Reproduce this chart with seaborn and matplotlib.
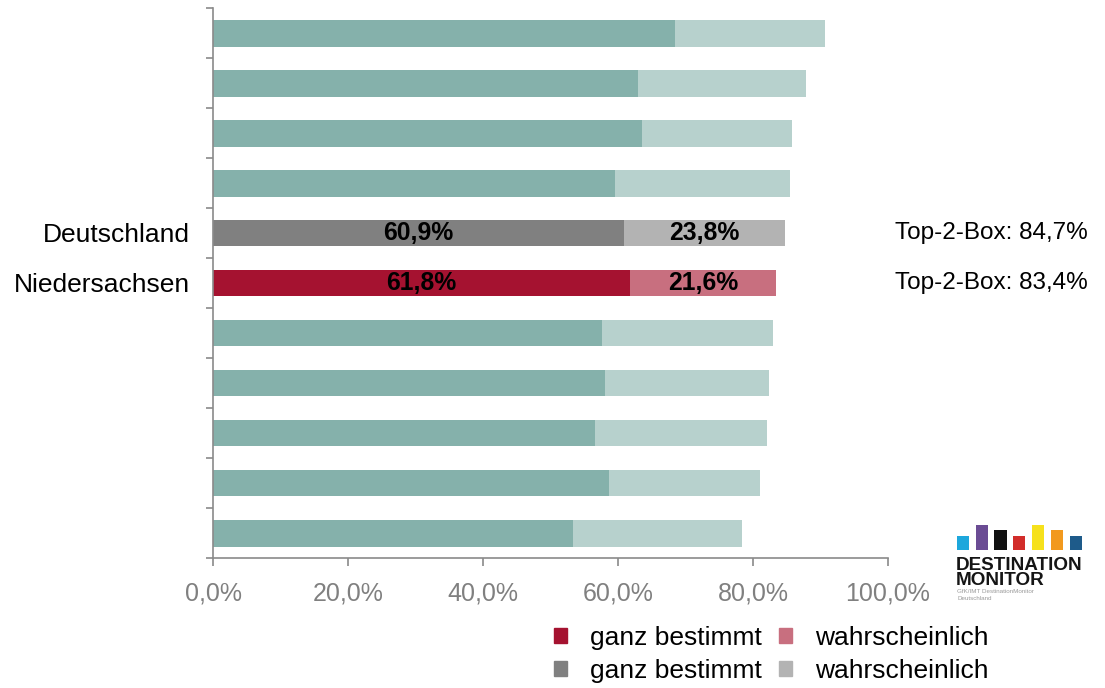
import matplotlib
matplotlib.use("Agg")
import matplotlib.pyplot as plt
from matplotlib.patches import Patch
import numpy as np
import pandas as pd
import seaborn as sns

# --- data -----------------------------------------------------------------
row_ids = ["1", "2", "3", "4", "5", "6", "7", "8", "9", "10", "11"]
regions = ["", "", "", "", "Deutschland", "Niedersachsen", "", "", "", "", ""]
ganz_bestimmt = [68.5, 62.9, 63.5, 59.6, 60.9, 61.8, 57.7, 58.0, 56.6, 58.7, 53.4]
wahrscheinlich = [22.2, 24.9, 22.3, 25.9, 23.8, 21.6, 25.2, 24.4, 25.4, 22.4, 24.9]
x_ticks = [0, 20, 40, 60, 80, 100]
legend_labels = ["ganz bestimmt", "ganz bestimmt", "wahrscheinlich", "wahrscheinlich"]

logo_heights = [14, 25, 20, 14, 25, 20, 14]
logo_colors = ["#1DA7DC", "#6B4C94", "#111111", "#D22D2A", "#F6E11C", "#F2991E", "#1E5B8A"]

# --- colours --------------------------------------------------------------
TEAL_DARK, TEAL_LIGHT = "#85B1AB", "#B7D1CD"
RED_DARK, RED_LIGHT = "#A51230", "#C86F7F"
GREY_DARK, GREY_LIGHT = "#808080", "#B3B3B3"

dark_cols, light_cols = [], []
for name in regions:
    if name == "Deutschland":
        dark_cols.append(GREY_DARK); light_cols.append(GREY_LIGHT)
    elif name == "Niedersachsen":
        dark_cols.append(RED_DARK); light_cols.append(RED_LIGHT)
    else:
        dark_cols.append(TEAL_DARK); light_cols.append(TEAL_LIGHT)

df = pd.DataFrame({
    "row": row_ids,
    "region": regions,
    "ganz": ganz_bestimmt,
    "wahr": wahrscheinlich,
})
df["total"] = df["ganz"] + df["wahr"]

sns.set_style("white")
plt.rcParams["font.family"] = ["Liberation Sans", "DejaVu Sans"]
plt.rcParams["text.color"] = "black"

fig = plt.figure(figsize=(11.05, 6.88), dpi=100)
ax = fig.add_axes([213 / 1105, 1 - 558 / 688, 675 / 1105, 550 / 688])

# stacked bars: full top-2 total first, "ganz bestimmt" share on top
sns.barplot(data=df, y="row", x="total", hue="row", order=row_ids, hue_order=row_ids,
            palette=dict(zip(row_ids, light_cols)), orient="h", width=0.54, saturation=1,
            linewidth=0, errorbar=None, legend=False, ax=ax)
sns.barplot(data=df, y="row", x="ganz", hue="row", order=row_ids, hue_order=row_ids,
            palette=dict(zip(row_ids, dark_cols)), orient="h", width=0.54, saturation=1,
            linewidth=0, errorbar=None, legend=False, ax=ax)

def pct(v):
    return f"{v:.1f}%".replace(".", ",")

for i, r in df.iterrows():
    if r["region"]:
        ax.text(r["ganz"] / 2, i, pct(r["ganz"]), ha="center", va="center",
                fontsize=17.8, fontweight="bold", color="black")
        ax.text(r["ganz"] + r["wahr"] / 2, i, pct(r["wahr"]), ha="center", va="center",
                fontsize=17.8, fontweight="bold", color="black")
        ax.text(101, i, f"Top-2-Box: {pct(r['total'])}", ha="left", va="center",
                fontsize=17.5, color="black", clip_on=False)

# axes styling
AX_GREY = "#8A8A8A"
ax.set_xlim(0, 100)
ax.set_ylim(10.5, -0.5)
ax.set_xlabel("")
ax.set_ylabel("")
ax.set_xticks(x_ticks)
ax.set_xticklabels([pct(v) for v in x_ticks])
ax.set_yticks(range(len(row_ids)))
ax.set_yticklabels(regions)
ax.set_yticks(np.arange(-0.5, len(row_ids), 1.0), minor=True)
ax.tick_params(axis="y", which="major", length=0, pad=16.5, labelsize=19, labelcolor="black")
ax.tick_params(axis="y", which="minor", length=5, width=1.2, color=AX_GREY, direction="out", left=True)
ax.tick_params(axis="x", which="major", length=6, width=1.2, color=AX_GREY, direction="out",
               bottom=True, pad=11, labelsize=18, labelcolor="#808080")
for side in ("top", "right"):
    ax.spines[side].set_visible(False)
for side in ("left", "bottom"):
    ax.spines[side].set_color(AX_GREY)
    ax.spines[side].set_linewidth(1.2)

# legend
handles = [Patch(color=RED_DARK), Patch(color=GREY_DARK),
           Patch(color=RED_LIGHT), Patch(color=GREY_LIGHT)]
leg = fig.legend(handles, legend_labels, ncol=2, loc="upper left",
                 bbox_to_anchor=(554 / 1105, 1 - 626 / 688), frameon=False, fontsize=19,
                 handlelength=0.5, handleheight=0.5, handletextpad=0.87,
                 labelspacing=0.34, columnspacing=0.65, borderpad=0, borderaxespad=0)
for t in leg.get_texts():
    t.set_color("black")

# DestinationMonitor logo
lax = fig.add_axes([953.5 / 1105, 1 - 550 / 688, 131.6 / 1105, 25 / 688])
lx = [str(i) for i in range(len(logo_heights))]
sns.barplot(x=lx, y=logo_heights, hue=lx, palette=dict(zip(lx, logo_colors)),
            width=0.64, linewidth=0, saturation=1, errorbar=None, legend=False, ax=lax)
lax.set_ylim(0, 25)
lax.set_axis_off()
fig.text(956 / 1105, 1 - 557 / 688, "DESTINATION", ha="left", va="top",
         fontsize=13.6, fontweight="bold", color="#151515")
fig.text(956 / 1105, 1 - 572 / 688, "MONITOR", ha="left", va="top",
         fontsize=13.6, fontweight="bold", color="#151515")
fig.text(957 / 1105, 1 - 589 / 688, "GfK/IMT DestinationMonitor", ha="left", va="top",
         fontsize=4.5, color="#9A9A9A")
fig.text(957 / 1105, 1 - 596 / 688, "Deutschland", ha="left", va="top",
         fontsize=4.5, color="#9A9A9A")

fig.savefig("out.png", dpi=100)
